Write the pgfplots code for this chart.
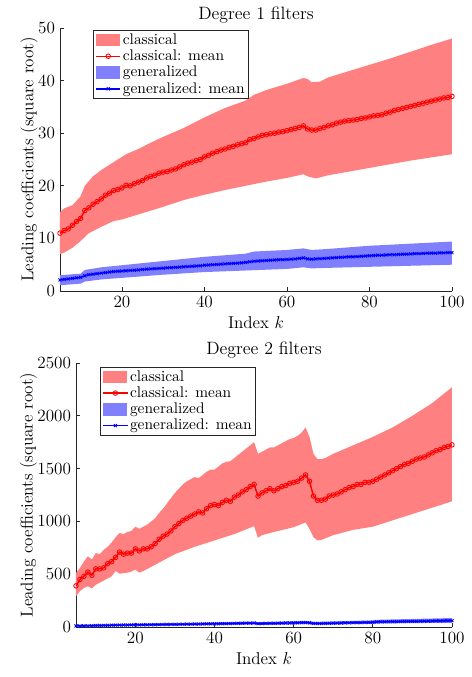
\documentclass[border=0pt]{standalone}
\usepackage{pgfplots}
\pgfplotsset{compat=1.18}
\begin{document}
\begin{tikzpicture}
\useasboundingbox (0pt,0pt) rectangle (329.7pt,-473.9pt);
\coordinate (A) at (42pt,-203.7pt);
\coordinate (B) at (53.2pt,-438.9pt);
\pgfplotsset{
  myax/.style={
    scale only axis,
    axis lines=left,
    axis line style={-, black!85, line width=0.5pt},
    tick align=inside,
    major tick length=3pt,
    tick style={black!85, line width=0.5pt},
    xmin=5, xmax=100,
    xtick={20,40,...,100},
    xlabel={Index $k$},
    ylabel={Leading coefficients (square root)},
    ylabel style={yshift=-6.5pt},
    font=\fontsize{12}{14}\selectfont,
    tick label style={font=\fontsize{12}{14}\selectfont},
    label style={font=\fontsize{12}{14}\selectfont},
    title style={font=\fontsize{12.5}{14}\selectfont, yshift=-6pt},
    /pgf/number format/1000 sep={},
    scaled y ticks=false,
    legend cell align=left,
    legend style={draw=black!85, font=\fontsize{10.8}{12}\selectfont,
      inner xsep=1.5pt, inner ysep=1pt, row sep=0pt, anchor=north west,
      nodes={inner sep=1.2pt}},
  },
  redband/.style={fill=red!50, draw=none, area legend,
    legend image code/.code={\fill[red!50] (0pt,-4.3pt) rectangle (17pt,4.3pt);}},
  blueband/.style={fill=blue!50, draw=none, area legend,
    legend image code/.code={\fill[blue!50] (0pt,-4.3pt) rectangle (17pt,4.3pt);}},
  redmean/.style={red, line width=1pt, mark=o, mark size=1.6pt, mark options={solid, red, line width=0.6pt}},
  bluemean/.style={blue, line width=1pt, mark=x, mark size=1.5pt, mark options={solid, blue, line width=0.6pt}},
}
% ---------- Degree 1 ----------
\begin{axis}[myax, at={(A)}, anchor=south west,
  width=274.4pt, height=184.1pt,
  ymin=0, ymax=50, ytick={0,10,...,50},
  title={Degree 1 filters},
  legend style={at={(0.084,0.992)}}]
\addplot[redband] coordinates {
(5,15) (6,15.7) (8,16.3) (10,18) (11,20) (13,21.8) (15,23) (17,24) (19,25) (21,26) (24,27) (27,28.2) (30,29.3) (35,31) (40,33) (45,34.8) (50,36.2) (52,37.3) (55,38.2) (60,39.4) (64,40.5) (65,40.3) (66,39.7) (68,39.8) (70,40.6) (75,41.8) (80,43) (85,44.2) (90,45.5) (95,46.8) (100,48)
(100,26) (95,25.4) (90,24.8) (85,24.1) (80,23.4) (75,22.7) (70,22) (67,21.4) (65,21.8) (64,22.2) (60,21.5) (55,20.8) (50,20) (45,19.2) (40,18.3) (35,17.3) (30,16) (25,14.8) (20,13.6) (18,13.3) (15,12.2) (12,11) (10,9.5) (8,8.2) (6,7.3) (5,7)
};
\addlegendentry{classical}
\addplot[redmean] coordinates {
(5,11) (6,11.5) (7,11.8) (8,12.5) (9,13.2) (10,13.8) (11,15.3) (12,15.8) (13,16.5) (14,17) (15,17.5) (16,18.2) (17,18.6) (18,19.1) (19,19.3) (20,19.6) (21,20.1) (22,20.0) (23,20.4) (24,20.7) (25,21.0) (26,21.5) (27,21.8) (28,22.0) (29,22.4) (30,22.6) (31,22.7) (32,23.0) (33,23.2) (34,23.6) (35,24.0) (36,24.3) (37,24.5) (38,24.8) (39,25.0) (40,25.5) (41,25.8) (42,26.2) (43,26.5) (44,26.8) (45,27.0) (46,27.3) (47,27.5) (48,27.8) (49,28.0) (50,28.2) (51,28.8) (52,29.0) (53,29.3) (54,29.6) (55,29.7) (56,29.9) (57,30.0) (58,30.2) (59,30.3) (60,30.5) (61,30.7) (62,30.9) (63,31.1) (64,31.4) (65,30.8) (66,30.6) (67,30.6) (68,30.9) (69,31.1) (70,31.4) (71,31.6) (72,31.9) (73,32.1) (74,32.3) (75,32.4) (76,32.5) (77,32.6) (78,32.8) (79,32.9) (80,33.1) (81,33.3) (82,33.4) (83,33.5) (84,33.8) (85,34.0) (86,34.3) (87,34.5) (88,34.7) (89,34.9) (90,35.1) (91,35.3) (92,35.5) (93,35.7) (94,35.9) (95,36.1) (96,36.3) (97,36.5) (98,36.7) (99,36.8) (100,37.0)
};
\addlegendentry{classical: mean}
\addplot[blueband] coordinates {
(5,3.0) (10,3.3) (11,4.0) (15,4.5) (20,4.9) (30,5.7) (40,6.5) (50,7.1) (52,7.5) (60,7.8) (64,8.1) (66,7.8) (70,8.0) (80,8.6) (90,9.0) (100,9.4)
(100,5.0) (90,4.8) (80,4.6) (70,4.4) (66,4.3) (64,4.5) (60,4.2) (50,3.9) (40,3.6) (30,3.1) (20,2.5) (15,2.2) (11,1.8) (10,1.4) (5,1.1)
};
\addlegendentry{generalized}
\addplot[bluemean] coordinates {
(5,2.1) (6,2.2) (7,2.3) (8,2.4) (9,2.5) (10,2.6) (11,2.9) (12,3.1) (13,3.2) (14,3.3) (15,3.4) (16,3.5) (17,3.6) (18,3.7) (19,3.75) (20,3.8) (21,3.85) (22,3.9) (23,3.95) (24,4.0) (25,4.1) (26,4.15) (27,4.2) (28,4.25) (29,4.3) (30,4.35) (31,4.4) (32,4.45) (33,4.5) (34,4.55) (35,4.6) (36,4.65) (37,4.7) (38,4.75) (39,4.8) (40,4.9) (41,4.95) (42,5.0) (43,5.05) (44,5.1) (45,5.15) (46,5.2) (47,5.25) (48,5.3) (49,5.35) (50,5.45) (51,5.55) (52,5.65) (53,5.7) (54,5.75) (55,5.8) (56,5.85) (57,5.9) (58,5.95) (59,5.95) (60,6.0) (61,6.05) (62,6.1) (63,6.2) (64,6.3) (65,6.1) (66,6.05) (67,6.1) (68,6.15) (69,6.2) (70,6.25) (71,6.3) (72,6.35) (73,6.4) (74,6.45) (75,6.5) (76,6.5) (77,6.55) (78,6.6) (79,6.65) (80,6.7) (81,6.75) (82,6.8) (83,6.8) (84,6.85) (85,6.9) (86,6.9) (87,6.95) (88,7.0) (89,7.0) (90,7.05) (91,7.1) (92,7.1) (93,7.15) (94,7.2) (95,7.2) (96,7.2) (97,7.25) (98,7.25) (99,7.3) (100,7.3)
};
\addlegendentry{generalized: mean}
\end{axis}
% ---------- Degree 2 ----------
\begin{axis}[myax, at={(B)}, anchor=south west,
  width=263.2pt, height=184.8pt,
  ymin=0, ymax=2500, ytick={0,500,...,2500},
  title={Degree 2 filters},
  legend style={at={(0.064,0.985)}}]
\addplot[redband] coordinates {
(5,510) (6,560) (7,620) (8,670) (9,640) (10,700) (11,690) (12,730) (13,760) (14,800) (15,850) (16,890) (17,880) (18,900) (19,910) (20,950) (21,930) (22,950) (23,970) (24,1000) (25,1030) (26,1080) (27,1120) (28,1170) (29,1220) (30,1270) (31,1310) (32,1350) (33,1380) (34,1400) (35,1420) (36,1410) (37,1440) (38,1470) (39,1490) (40,1490) (41,1520) (42,1550) (43,1565) (44,1570) (45,1600) (46,1630) (47,1660) (48,1690) (49,1720) (50,1750) (51,1640) (52,1660) (53,1680) (54,1700) (55,1700) (56,1720) (57,1740) (58,1760) (59,1780) (60,1790) (61,1810) (62,1840) (63,1890) (64,1800) (65,1640) (66,1590) (67,1590) (68,1600) (69,1620) (70,1640) (75,1720) (80,1800) (85,1890) (90,2000) (95,2120) (100,2270)
(100,1190) (95,1130) (90,1070) (85,1010) (80,950) (75,920) (70,870) (67,825) (66,820) (65,850) (64,930) (63,990) (60,945) (55,900) (52,870) (51,845) (50,955) (45,880) (40,820) (35,760) (30,690) (25,590) (23,550) (22,530) (21,515) (20,545) (19,525) (18,515) (17,510) (16,505) (15,530) (14,480) (12,440) (10,400) (9,365) (8,385) (7,370) (6,340) (5,290)
};
\addlegendentry{classical}
\addplot[redmean] coordinates {
(5,390) (6,450) (7,480) (8,520) (9,490) (10,550) (11,550) (12,560) (13,600) (14,620) (15,660) (16,710) (17,690) (18,700) (19,700) (20,740) (21,720) (22,740) (23,740) (24,760) (25,790) (26,830) (27,860) (28,880) (29,910) (30,950) (31,980) (32,1010) (33,1030) (34,1050) (35,1070) (36,1090) (37,1080) (38,1120) (39,1150) (40,1160) (41,1150) (42,1180) (43,1200) (44,1190) (45,1230) (46,1250) (47,1280) (48,1300) (49,1330) (50,1350) (51,1240) (52,1270) (53,1290) (54,1310) (55,1290) (56,1310) (57,1330) (58,1340) (59,1360) (60,1370) (61,1380) (62,1410) (63,1440) (64,1380) (65,1240) (66,1200) (67,1200) (68,1210) (69,1240) (70,1250) (71,1260) (72,1280) (73,1300) (74,1320) (75,1330) (76,1350) (77,1350) (78,1370) (79,1370) (80,1380) (81,1400) (82,1420) (83,1440) (84,1460) (85,1480) (86,1500) (87,1520) (88,1540) (89,1550) (90,1570) (91,1590) (92,1600) (93,1610) (94,1630) (95,1650) (96,1670) (97,1680) (98,1700) (99,1710) (100,1725)
};
\addlegendentry{classical: mean}
\addplot[blueband] coordinates {
(5,18) (20,28) (40,42) (50,50) (51,44) (63,58) (65,48) (80,62) (81,68) (100,85)
(100,40) (81,34) (80,30) (65,22) (63,28) (51,20) (50,25) (40,20) (20,12) (5,5)
};
\addlegendentry{generalized}
\addplot[bluemean] coordinates {
(5,10) (6,10) (7,11) (8,12) (9,12) (10,14) (11,14) (12,15) (13,16) (14,17) (15,18) (16,18) (17,19) (18,19) (19,20) (20,20) (21,20) (22,21) (23,21) (24,22) (25,22) (26,23) (27,24) (28,24) (29,25) (30,25) (31,26) (32,26) (33,27) (34,27) (35,28) (36,28) (37,29) (38,30) (39,30) (40,31) (41,31) (42,32) (43,32) (44,33) (45,34) (46,35) (47,36) (48,37) (49,37) (50,38) (51,32) (52,33) (53,34) (54,35) (55,35) (56,36) (57,37) (58,38) (59,38) (60,39) (61,40) (62,41) (63,42) (64,40) (65,34) (66,33) (67,33) (68,34) (69,35) (70,36) (71,37) (72,38) (73,39) (74,40) (75,41) (76,42) (77,42) (78,43) (79,44) (80,45) (81,48) (82,49) (83,49) (84,50) (85,51) (86,51) (87,52) (88,52) (89,53) (90,54) (91,54) (92,55) (93,56) (94,56) (95,57) (96,58) (97,58) (98,59) (99,60) (100,60)
};
\addlegendentry{generalized: mean}
\end{axis}
\end{tikzpicture}
\end{document}
